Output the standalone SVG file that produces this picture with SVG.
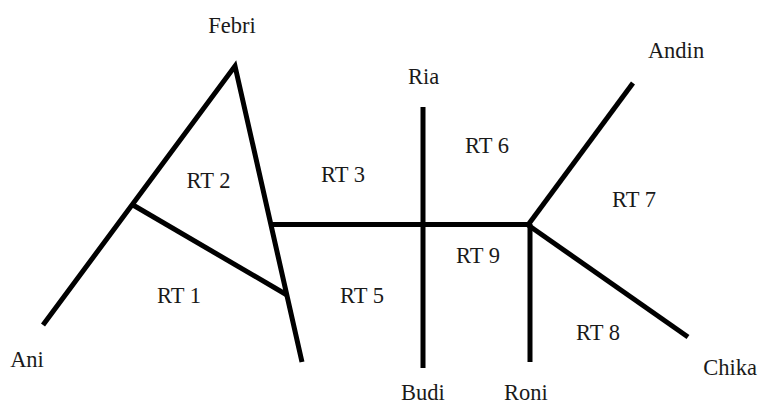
<svg xmlns="http://www.w3.org/2000/svg" width="760" height="406" viewBox="0 0 760 406">
<style>
.t{font-family:"Liberation Serif","Times New Roman",serif;font-size:22.5px;fill:#1a1a1a;text-anchor:middle}
.l{stroke:#000;stroke-width:5;fill:none;stroke-linejoin:miter;stroke-linecap:butt}
</style>
<rect width="760" height="406" fill="#fff"/>
<g id="connectors">
<polyline class="l" points="43,325 235,66 302,362"/>
<line class="l" x1="133" y1="205" x2="287" y2="295"/>
<line class="l" x1="270" y1="224.5" x2="530" y2="224.5"/>
<line class="l" x1="423" y1="107" x2="423" y2="368"/>
<line class="l" x1="633" y1="83" x2="528" y2="225"/>
<line class="l" x1="528" y1="225" x2="688" y2="337"/>
<line class="l" x1="530" y1="224" x2="530" y2="362"/>
</g>
<g id="febri"><text class="t" x="232" y="33">Febri</text></g>
<g id="ria"><text class="t" x="423.5" y="84">Ria</text></g>
<g id="andin"><text class="t" x="676" y="58">Andin</text></g>
<g id="ani"><text class="t" x="27" y="367">Ani</text></g>
<g id="budi"><text class="t" x="423" y="400">Budi</text></g>
<g id="roni"><text class="t" x="526" y="400">Roni</text></g>
<g id="chika"><text class="t" x="730" y="375">Chika</text></g>
<g id="rt1"><text class="t" x="179" y="303">RT 1</text></g>
<g id="rt2"><text class="t" x="208.5" y="188">RT 2</text></g>
<g id="rt3"><text class="t" x="343" y="182">RT 3</text></g>
<g id="rt5"><text class="t" x="362" y="303">RT 5</text></g>
<g id="rt6"><text class="t" x="487" y="153">RT 6</text></g>
<g id="rt7"><text class="t" x="634" y="207">RT 7</text></g>
<g id="rt8"><text class="t" x="598" y="340">RT 8</text></g>
<g id="rt9"><text class="t" x="478" y="263">RT 9</text></g>
</svg>
